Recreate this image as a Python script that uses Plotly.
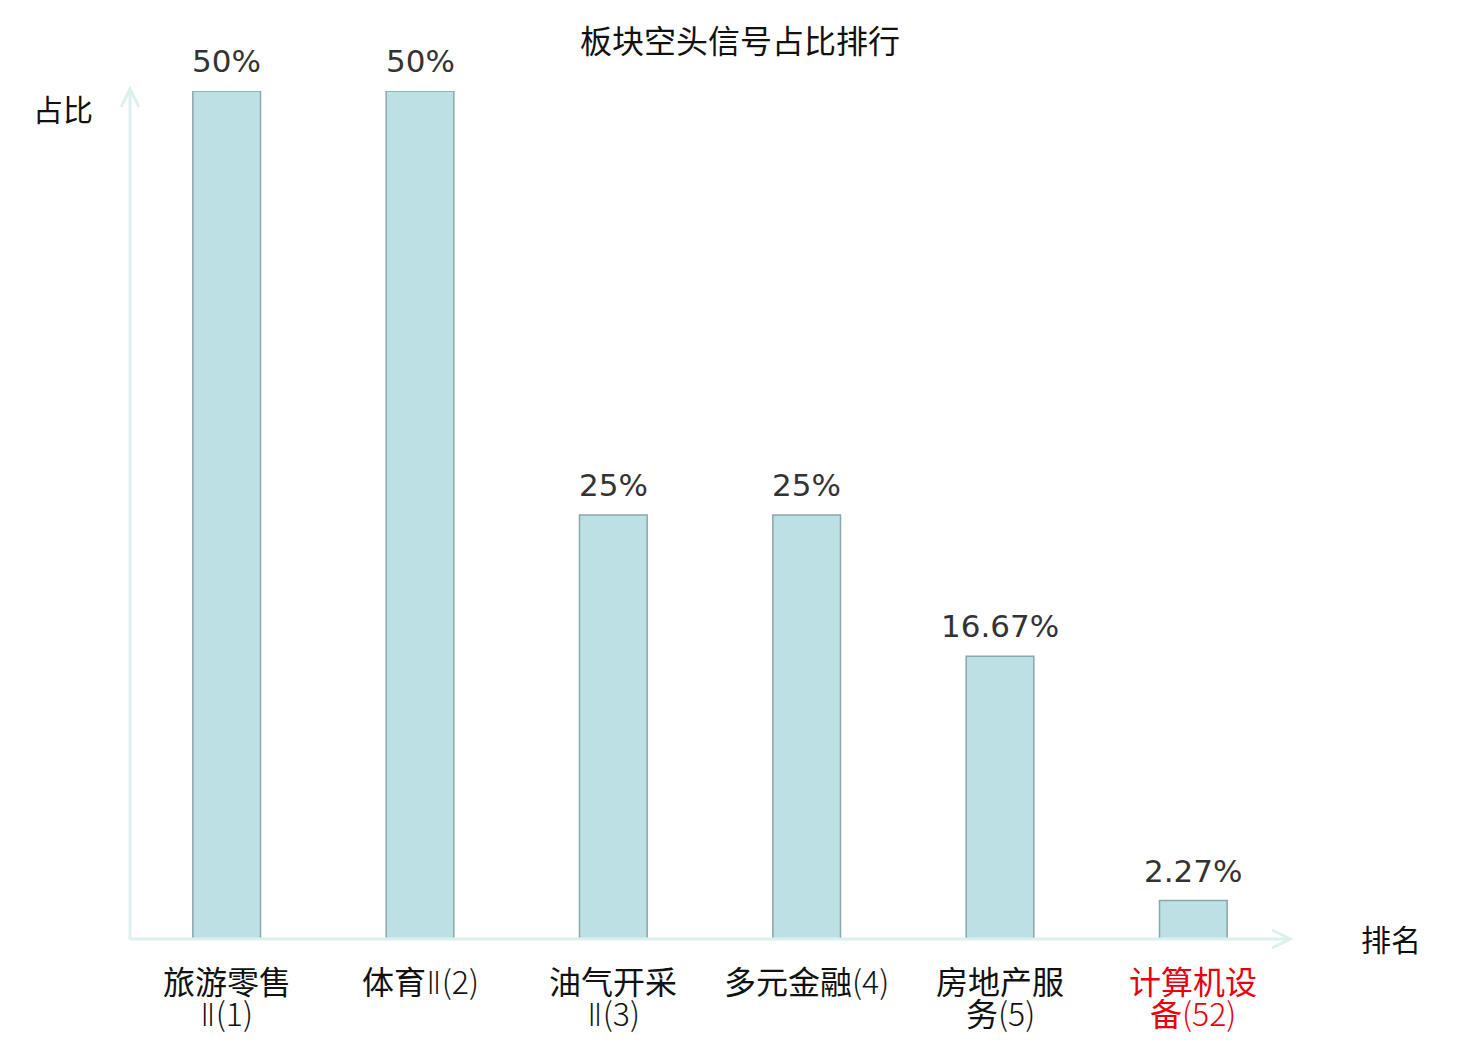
import plotly.graph_objects as go

# sector names split into two label lines, and short-signal share in percent
sector_line1 = ["旅游零售", "体育Ⅱ(2)", "油气开采", "多元金融(4)", "房地产服", "计算机设"]
sector_line2 = ["Ⅱ(1)", "", "Ⅱ(3)", "", "务(5)", "备(52)"]
shares = [50, 50, 25, 25, 16.67, 2.27]
share_text = ["50%", "50%", "25%", "25%", "16.67%", "2.27%"]
highlight = [False, False, False, False, False, True]

W, H = 1480, 1040
OFF = 8  # page body offset
PL, PT, PR, PB = 130, 91, 1290, 939  # plot area in page pixels
pw = PR - PL
ph = PB - PT

font_main = "DejaVu Sans, Noto Sans CJK SC, sans-serif"
font_cjk = "Noto Sans CJK SC, DejaVu Sans, sans-serif"
axis_col = "#dcf1ee"
n = len(shares)

fig = go.Figure(go.Bar(
    x=list(range(n)),
    y=shares,
    width=0.35,
    marker=dict(color="#bce0e3", line=dict(color="#8aa7a9", width=1.5)),
    hoverinfo="skip",
))

dx = 1.0 / pw
dy = 1.0 / ph


def py(page_y):
    # page y pixel -> paper fraction
    return (PB - page_y) * dy


shapes = [
    dict(type="line", xref="paper", yref="paper", x0=0, y0=0, x1=0, y1=py(89),
         line=dict(color=axis_col, width=3)),
    dict(type="line", xref="paper", yref="paper", x0=0, y0=0, x1=1, y1=0,
         line=dict(color=axis_col, width=3)),
    dict(type="path", xref="paper", yref="paper",
         path=f"M {-9*dx} {py(107)} L 0 {py(89)} L {9*dx} {py(107)}",
         line=dict(color=axis_col, width=3)),
    dict(type="path", xref="paper", yref="paper",
         path=f"M {1-18*dx} {9*dy} L 1 0 L {1-18*dx} {-9*dy}",
         line=dict(color=axis_col, width=3)),
]

annotations = []
# value labels above bars
for i, (v, t) in enumerate(zip(shares, share_text)):
    annotations.append(dict(x=i, y=v, xref="x", yref="y", text=t, showarrow=False,
                            xanchor="center", yanchor="middle", yshift=30,
                            font=dict(size=31, color="#333333", family=font_main)))


def light(s):
    # CJK part normal, ascii part lighter, roman numeral in a narrow font
    out = ""
    buf = ""
    for ch in s:
        if ord(ch) < 0x80:
            buf += ch
            continue
        if buf:
            out += f'<span style="font-weight:300">{buf}</span>'
            buf = ""
        if ch == "Ⅱ":
            out += '<span style="font-family:\'DejaVu Sans\';font-weight:200">Ⅱ</span>'
        else:
            out += ch
    if buf:
        out += f'<span style="font-weight:300">{buf}</span>'
    return out


# category labels under the axis
for i in range(n):
    col = "#e8000b" if highlight[i] else "#111111"
    for txt, yy in ((sector_line1[i], 980), (sector_line2[i], 1012)):
        if not txt:
            continue
        annotations.append(dict(x=i, y=py(yy), xref="x", yref="paper", text=light(txt),
                                showarrow=False, xanchor="center", yanchor="middle",
                                font=dict(size=32, color=col, family=font_cjk)))

annotations += [
    dict(text="占比", xref="paper", yref="paper", x=(63 - PL) * dx, y=py(110),
         showarrow=False, xanchor="center", yanchor="middle",
         font=dict(size=30, color="#111111", family=font_main)),
    dict(text="排名", xref="paper", yref="paper", x=(1391 - PL) * dx, y=py(941),
         showarrow=False, xanchor="center", yanchor="middle",
         font=dict(size=30, color="#111111", family=font_main)),
]

fig.update_layout(
    width=W, height=H,
    margin=dict(l=PL - OFF, r=W - PR + OFF, t=PT - OFF, b=H - PB + OFF),
    plot_bgcolor="white", paper_bgcolor="white",
    showlegend=False,
    title=dict(text="板块空头信号占比排行", x=(740 - OFF) / W, xanchor="center",
               y=1 - (42 - OFF) / H, yanchor="middle",
               font=dict(size=32, color="#111111", family=font_main)),
    xaxis=dict(range=[-0.5, n - 0.5], showticklabels=False,
               showgrid=False, zeroline=False, showline=False, ticks=""),
    yaxis=dict(range=[0, 50], showgrid=False, zeroline=False, showline=False,
               showticklabels=False, ticks=""),
    shapes=shapes,
    annotations=annotations,
)

fig.write_html("out.html")
